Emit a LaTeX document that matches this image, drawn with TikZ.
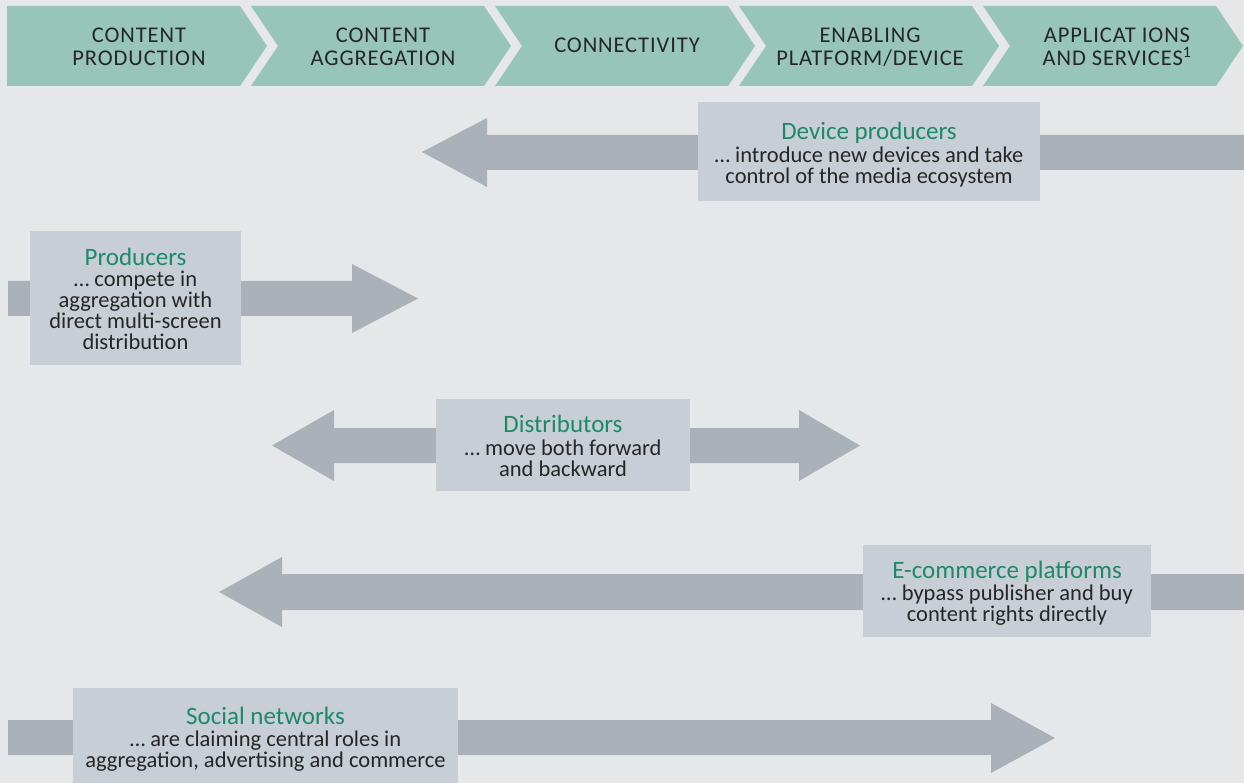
\documentclass[tikz,border=0pt]{standalone}
\usepackage{fontspec}
\setmainfont{Carlito}
\definecolor{bg}{HTML}{E6E7E9}
\definecolor{hdr}{HTML}{97C6B8}
\definecolor{arr}{HTML}{ABB1B8}
\definecolor{boxc}{HTML}{C8CED5}
\definecolor{ttl}{HTML}{1C8A68}
\definecolor{txt}{HTML}{262626}
\newcommand{\ttlfont}{\color{ttl}\fontsize{25}{24}\selectfont}
\tikzset{
  hdrtext/.style={text=txt, align=center, font=\fontsize{22.5}{23}\selectfont\addfontfeature{LetterSpace=4}, inner sep=0pt},
  rolebox/.style={fill=boxc, inner sep=0pt},
  roletext/.style={text=txt, align=center, inner sep=0pt, font=\fontsize{22.5}{21}\selectfont},
  bigarrow/.style={fill=arr},
  chev/.style={fill=hdr}
}
\begin{document}
\begin{tikzpicture}[x=1pt,y=-1pt]
\useasboundingbox (0,0) rectangle (1244,783);
\fill[bg] (0,0) rectangle (1244,783);
% header chevrons
\fill[chev] (7,6) -- (240,6) -- (267,46) -- (240,86) -- (7,86) -- cycle;
\foreach \i in {1,...,4}{
  \pgfmathsetmacro{\L}{7+244*\i}
  \pgfmathsetmacro{\R}{\L+233}
  \fill[chev] (\L,6) -- (\R,6) -- (\R+27,46) -- (\R,86) -- (\L,86) -- (\L+27,46) -- cycle;
}
\node[hdrtext] (h1) at (139,49) {\strut CONTENT\\\strut PRODUCTION};
\node[hdrtext] (h2) at (383,49) {\strut CONTENT\\\strut AGGREGATION};
\node[hdrtext] (h3) at (627,48) {\strut CONNECTIVITY};
\node[hdrtext] (h4) at (870,49) {\strut ENABLING\\\strut PLATFORM/DEVICE};
\node[hdrtext] (h5) at (1117,49) {\strut APPLICAT IONS\\\strut AND SERVICES\smash{\textsuperscript{1}}};
% row 1: device producers
\fill[bigarrow] (1244,135) -- (487,135) -- (487,118) -- (422,152) -- (487,187) -- (487,170) -- (1244,170) -- cycle;
\node[rolebox, minimum width=342pt, minimum height=99pt] (dev) at (869,151.5) {};
\node[roletext] (devt) at ([yshift=-3pt]dev.center)
  {{\ttlfont Device producers}\\[2pt]\ldots{} introduce new devices and take\\control of the media ecosystem};
% row 2: producers
\fill[bigarrow] (8,281) -- (352,281) -- (352,264) -- (418,298.5) -- (352,333) -- (352,316) -- (8,316) -- cycle;
\node[rolebox, minimum width=211pt, minimum height=134pt] (prod) at (135.5,298) {};
\node[roletext] (prodt) at ([yshift=-1pt]prod.center)
  {{\ttlfont Producers}\\\ldots{} compete in\\aggregation with\\direct multi-screen\\distribution};
% row 3: distributors
\fill[bigarrow] (334,428) -- (799,428) -- (799,410) -- (860,445.5) -- (799,481) -- (799,463) -- (334,463) -- (334,481) -- (272,445.5) -- (334,410) -- cycle;
\node[rolebox, minimum width=254pt, minimum height=92pt] (dist) at (563,445) {};
\node[roletext] (distt) at ([yshift=-0.5pt]dist.center)
  {{\ttlfont Distributors}\\[2pt]\ldots{} move both forward\\and backward};
% row 4: e-commerce
\fill[bigarrow] (1244,574) -- (282,574) -- (282,557) -- (219,592) -- (282,627) -- (282,610) -- (1244,610) -- cycle;
\node[rolebox, minimum width=288pt, minimum height=92pt] (ecom) at (1007,591) {};
\node[roletext] (ecomt) at ([yshift=-2pt]ecom.center)
  {{\ttlfont E-commerce platforms}\\[1pt]\ldots{} bypass publisher and buy\\content rights directly};
% row 5: social networks
\fill[bigarrow] (8,720) -- (991,720) -- (991,703) -- (1055,738) -- (991,773) -- (991,755) -- (8,755) -- cycle;
\node[rolebox, minimum width=385pt, minimum height=95pt] (soc) at (265.5,735.5) {};
\node[roletext] (soct) at ([yshift=-4pt]soc.center)
  {{\ttlfont Social networks}\\[1pt]\ldots{} are claiming central roles in\\aggregation, advertising and commerce};
\end{tikzpicture}
\end{document}
